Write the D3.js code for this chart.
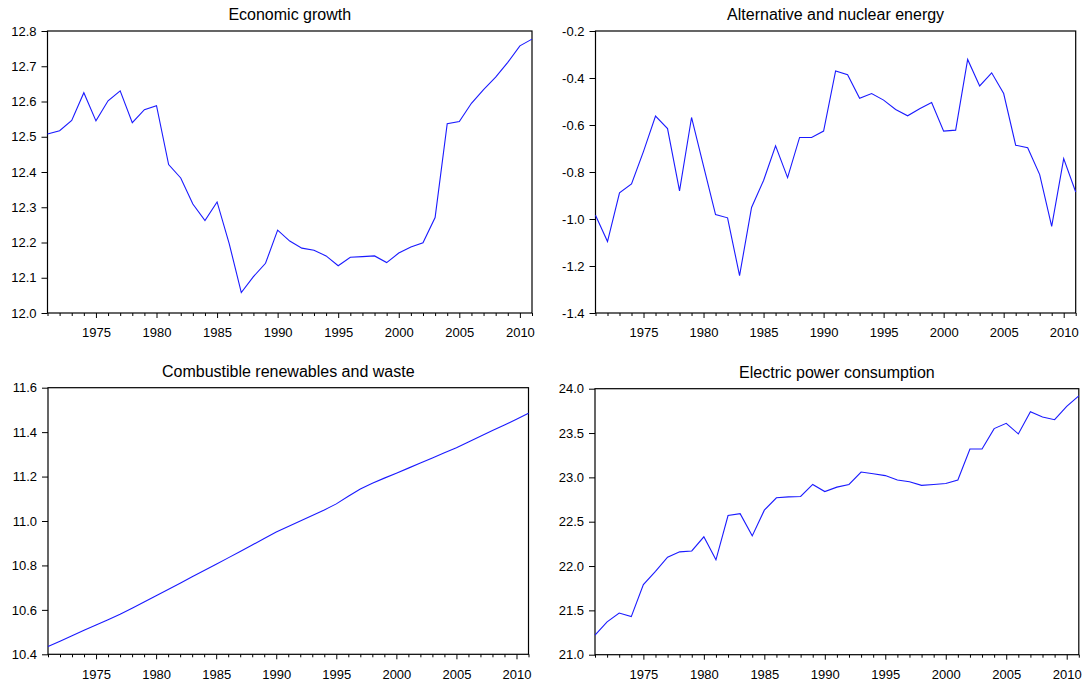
<!DOCTYPE html>
<html>
<head>
<meta charset="utf-8">
<script src="https://cdn.jsdelivr.net/npm/d3@7"></script>
<style>
  html, body { margin: 0; padding: 0; background: #fff; }
  svg { display: block; }
  text { font-family: Arial, "Liberation Sans", sans-serif; fill: #000; }
</style>
</head>
<body>
<svg id="chart" width="1084" height="685"></svg>
<script>
// ---------- data ----------
const years = d3.range(1971, 2012);

const economicGrowth = [
  12.508, 12.517, 12.546, 12.625, 12.545, 12.602, 12.630, 12.540, 12.577, 12.588,
  12.421, 12.383, 12.309, 12.262, 12.315, 12.197, 12.058, 12.103, 12.141, 12.235,
  12.204, 12.184, 12.178, 12.162, 12.134, 12.158, 12.160, 12.162, 12.143, 12.170,
  12.187, 12.199, 12.271, 12.537, 12.543, 12.595, 12.634, 12.669, 12.711, 12.758,
  12.777
];

const altNuclear = [
  -0.984, -1.096, -0.889, -0.851, -0.712, -0.562, -0.615, -0.880, -0.568, -0.775,
  -0.981, -0.995, -1.241, -0.951, -0.836, -0.689, -0.824, -0.653, -0.653, -0.626,
  -0.370, -0.386, -0.486, -0.466, -0.494, -0.534, -0.561, -0.531, -0.504, -0.626,
  -0.622, -0.321, -0.434, -0.378, -0.466, -0.686, -0.697, -0.811, -1.031, -0.743,
  -0.885
];

const combustible = [
  10.435, 10.459, 10.483, 10.508, 10.532, 10.556, 10.580, 10.607, 10.635, 10.664,
  10.692, 10.720, 10.749, 10.777, 10.805, 10.834, 10.863, 10.892, 10.921, 10.950,
  10.975, 11.000, 11.025, 11.050, 11.077, 11.111, 11.144, 11.170, 11.193, 11.215,
  11.238, 11.261, 11.284, 11.307, 11.330, 11.356, 11.381, 11.407, 11.432, 11.458,
  11.485
];

const electric = [
  21.22, 21.37, 21.47, 21.43, 21.79, 21.94, 22.10, 22.16, 22.17, 22.33,
  22.07, 22.57, 22.59, 22.34, 22.63, 22.77, 22.78, 22.785, 22.92, 22.84,
  22.89, 22.92, 23.06, 23.04, 23.02, 22.97, 22.95, 22.91, 22.92, 22.93,
  22.97, 23.32, 23.32, 23.55, 23.61, 23.49, 23.74, 23.68, 23.65, 23.80,
  23.92
];

const titles = [
  "Economic growth",
  "Alternative and nuclear energy",
  "Combustible renewables and waste",
  "Electric power consumption"
];

const yTicks1 = [12.0, 12.1, 12.2, 12.3, 12.4, 12.5, 12.6, 12.7, 12.8];
const yTicks2 = [-1.4, -1.2, -1.0, -0.8, -0.6, -0.4, -0.2];
const yTicks3 = [10.4, 10.6, 10.8, 11.0, 11.2, 11.4, 11.6];
const yTicks4 = [21.0, 21.5, 22.0, 22.5, 23.0, 23.5, 24.0];
const xTickLabels = [1975, 1980, 1985, 1990, 1995, 2000, 2005, 2010];

// ---------- layout ----------
const panels = [
  { title: titles[0], values: economicGrowth, yTicks: yTicks1, box: { x0: 47.5, x1: 532,   y0: 31,    y1: 313 } },
  { title: titles[1], values: altNuclear,     yTicks: yTicks2, box: { x0: 595.5, x1: 1075.7, y0: 31,   y1: 313 } },
  { title: titles[2], values: combustible,    yTicks: yTicks3, box: { x0: 48,   x1: 528.5, y0: 387.7, y1: 654.3 } },
  { title: titles[3], values: electric,       yTicks: yTicks4, box: { x0: 595,  x1: 1078.8, y0: 388.7, y1: 654.7 } }
];

const svg = d3.select("#chart");

panels.forEach(p => {
  const b = p.box;
  const g = svg.append("g");

  const x = d3.scaleLinear().domain([1971, 2011]).range([b.x0, b.x1]);
  const y = d3.scaleLinear()
    .domain([d3.min(p.yTicks), d3.max(p.yTicks)])
    .range([b.y1, b.y0]);

  // frame
  g.append("rect")
    .attr("x", b.x0).attr("y", b.y0)
    .attr("width", b.x1 - b.x0).attr("height", b.y1 - b.y0)
    .attr("fill", "none").attr("stroke", "#000").attr("stroke-width", 1.2);

  // line
  const line = d3.line()
    .x((d, i) => x(years[i]))
    .y(d => y(d));
  g.append("path")
    .datum(p.values)
    .attr("d", line)
    .attr("fill", "none")
    .attr("stroke", "#1a1aff")
    .attr("stroke-width", 1.1);

  // y axis
  const yAxis = d3.axisLeft(y)
    .tickValues(p.yTicks)
    .tickSize(6)
    .tickPadding(5)
    .tickFormat(d => d.toFixed(1));
  const ya = g.append("g")
    .attr("transform", `translate(${b.x0},0)`)
    .call(yAxis);
  ya.select(".domain").remove();
  ya.selectAll("line").attr("stroke", "#000");
  ya.selectAll("text")
    .attr("font-size", 13)
    .attr("font-family", "Arial, 'Liberation Sans', sans-serif")
    .attr("fill", "#111");

  // x axis minor ticks (every year)
  const xMinor = d3.axisBottom(x)
    .tickValues(years.filter(yr => yr % 5 !== 0))
    .tickSize(3)
    .tickFormat("");
  const xm = g.append("g")
    .attr("transform", `translate(0,${b.y1})`)
    .call(xMinor);
  xm.select(".domain").remove();
  xm.selectAll("line").attr("stroke", "#000");

  // x axis major ticks with labels
  const xMajor = d3.axisBottom(x)
    .tickValues(xTickLabels)
    .tickSize(5)
    .tickPadding(10)
    .tickFormat(d3.format("d"));
  const xa = g.append("g")
    .attr("transform", `translate(0,${b.y1})`)
    .call(xMajor);
  xa.select(".domain").remove();
  xa.selectAll("line").attr("stroke", "#000");
  xa.selectAll("text")
    .attr("font-size", 13)
    .attr("font-family", "Arial, 'Liberation Sans', sans-serif")
    .attr("fill", "#111");

  // title
  g.append("text")
    .attr("x", (b.x0 + b.x1) / 2)
    .attr("y", b.y0 - 11)
    .attr("text-anchor", "middle")
    .attr("font-size", 16)
    .text(p.title);
});
</script>
</body>
</html>
